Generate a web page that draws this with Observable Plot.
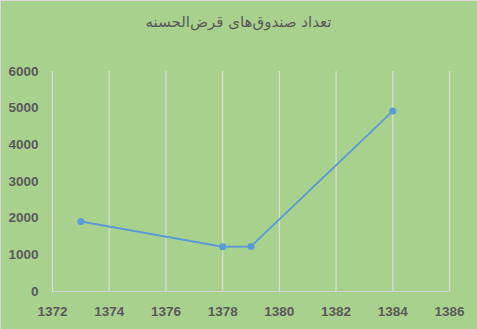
<!DOCTYPE html>
<html><head><meta charset="utf-8">
<script src="https://cdn.jsdelivr.net/npm/d3@7"></script>
<script src="https://cdn.jsdelivr.net/npm/@observablehq/plot@0.6"></script>
<style>
html,body{margin:0;padding:0;background:#a9d18e;}
#wrap{position:relative;width:477px;height:329px;background:#a9d18e;overflow:hidden;}
#wrap::after{content:"";position:absolute;left:0;top:0;width:477px;height:329px;border-left:1px solid #d9d9d9;border-top:1px solid #d9d9d9;box-sizing:border-box;pointer-events:none;}
#title{height:50px;line-height:44px;text-align:center;font-family:"DejaVu Sans",sans-serif;font-size:15px;color:#595959;direction:rtl;}
</style></head>
<body><div id="wrap"><div id="title">تعداد صندوق‌های قرض‌الحسنه</div><div id="chart"></div></div>
<script>
const years = [1373, 1378, 1379, 1384];
const counts = [1910, 1220, 1230, 4920];
const xTicks = [1372, 1374, 1376, 1378, 1380, 1382, 1384, 1386];
const yTicks = [0, 1000, 2000, 3000, 4000, 5000, 6000];
const data = years.map((y, i) => ({year: y, count: counts[i]}));
const chart = Plot.plot({
  width: 477, height: 279,
  marginLeft: 52, marginRight: 28, marginTop: 21, marginBottom: 38,
  style: {background: "#a9d18e", fontFamily: "'Liberation Sans', Arial, sans-serif", fontSize: "13.5px", fontWeight: "bold", color: "#595959"},
  x: {domain: [1372, 1386], ticks: xTicks, tickFormat: d => String(d), label: null},
  y: {domain: [0, 6000], ticks: yTicks, tickFormat: d => String(d), label: null},
  marks: [
    Plot.ruleX(xTicks, {stroke: "#dcdcdc", strokeWidth: 1.2}),
    Plot.ruleY([0], {stroke: "#d0d0d0", strokeWidth: 1.2}),
    Plot.axisX({ticks: xTicks, tickSize: 0, tickPadding: 15, tickFormat: d => String(d), label: null, fill: "#595959"}),
    Plot.axisY({ticks: yTicks, tickSize: 0, tickPadding: 14, tickFormat: d => String(d), label: null, fill: "#595959"}),
    Plot.line(data, {x: "year", y: "count", stroke: "#5b9bd5", strokeWidth: 2}),
    Plot.dot(data, {x: "year", y: "count", fill: "#5b9bd5", r: 3.5})
  ]
});
document.getElementById("chart").appendChild(chart);
</script></body></html>
